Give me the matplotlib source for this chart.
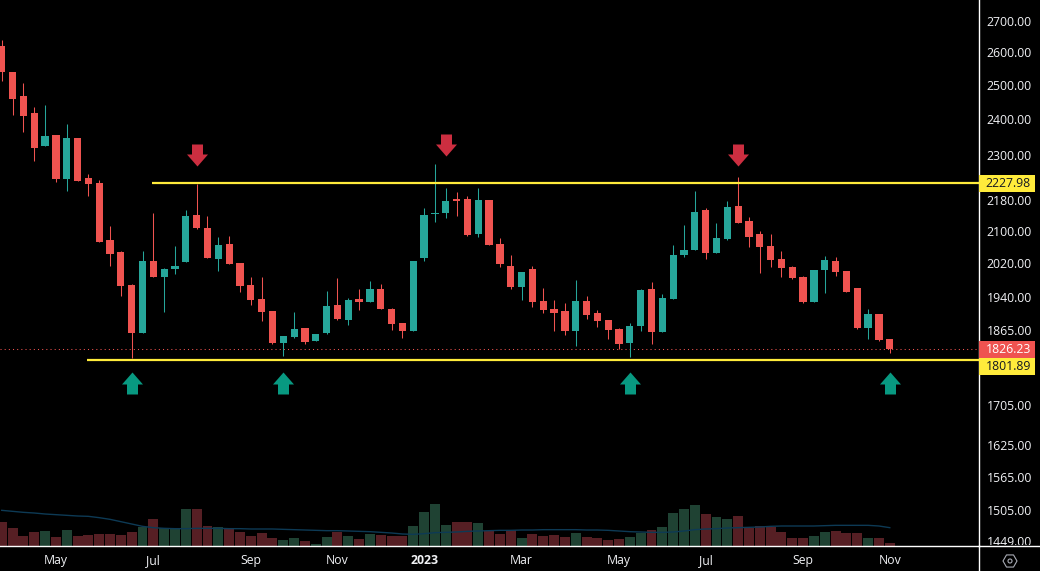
import matplotlib
matplotlib.use("Agg")
import matplotlib.pyplot as plt
from matplotlib.path import Path
from matplotlib.patches import Rectangle, RegularPolygon, Circle
from matplotlib.lines import Line2D
from matplotlib.ticker import NullLocator, NullFormatter
from matplotlib.transforms import Bbox, IdentityTransform

opens = [2624,2542,2471,2422,2329,2359,2237,2351,2241,2228,2081,2051,1972,1863,2030,1992,2011,2028,2144,2111,
         2035,2071,2025,1972,1939,1912,1839,1854,1873,1845,1861,1926,1891,1939,1932,1962,1916,1884,1867,2037,
         2147,2149,2185,2185,2096,2183,2071,2018,1967,2010,1935,1916,1912,1867,1935,1907,1891,1871,1840,1878,
         1962,1865,1939,2044,2056,2157,2049,2083,2167,2128,2096,2066,2035,2015,1991,1932,2008,2030,2005,1965,
         1873,1905,1849]
highs = [2643,2545,2509,2440,2445,2359,2391,2351,2252,2236,2116,2054,1974,2054,2149,2013,2066,2157,2226,2141,
         2089,2091,2025,1990,1991,1912,1856,1909,1873,1860,1958,1989,1942,1962,1982,1974,1919,1884,2030,2162,
         2279,2214,2204,2193,2214,2183,2086,2044,2003,2018,1965,1937,1930,1984,1946,1914,1891,1873,1884,1962,
         1979,1951,2068,2118,2206,2162,2123,2180,2244,2139,2103,2096,2054,2018,1993,2008,2042,2039,2005,1965,
         1916,1905,1849]
lows = [2517,2417,2368,2288,2329,2229,2207,2234,2192,2075,2018,1946,1808,1863,1990,1910,1997,2028,2109,2037,
        2006,2021,1956,1926,1889,1837,1812,1850,1837,1845,1859,1892,1880,1914,1932,1916,1869,1851,1867,2030,
        2126,2136,2141,2091,2088,2068,2015,1962,1937,1921,1907,1867,1858,1834,1893,1876,1849,1827,1809,1867,
        1838,1865,1939,2039,2056,2034,2049,2081,2123,2063,2001,2015,1991,1986,1930,1932,1953,1994,1955,1871,
        1849,1845,1818]
closes = [2542,2464,2414,2323,2356,2237,2351,2234,2224,2077,2047,1970,1863,2030,1992,2010,2018,2141,2112,2037,
          2068,2023,1970,1938,1910,1839,1856,1871,1843,1860,1923,1894,1937,1933,1962,1916,1882,1867,2030,2144,
          2149,2180,2180,2093,2183,2068,2022,1967,2003,1932,1914,1907,1867,1935,1903,1889,1869,1838,1878,1960,
          1865,1942,2044,2056,2152,2049,2086,2165,2123,2089,2063,2032,2013,1989,1932,2008,2032,2003,1955,1873,
          1905,1847,1826]
volumes = [72,54,30,42,45,27,48,30,33,36,36,33,42,57,81,54,54,111,111,60,
           57,54,42,30,39,24,18,24,15,6,27,42,30,21,36,33,30,30,60,102,
           126,63,72,72,69,45,36,48,24,36,30,33,27,39,27,24,18,21,27,39,
           48,57,99,111,123,96,87,81,90,54,60,57,42,24,24,30,42,45,39,39,
           24,24,9]
volume_ma = [107,104,101,99,96,94,92,90,89,85,80,73,66,59,55,53,52,52,53,53,
             53,52,52,51,51,51,50,49,48,47,46,46,45,44,43,41,39,36,35,37,
             40,41,42,44,45,46,47,47,48,48,49,49,49,49,48,48,47,45,43,42,
             41,41,42,45,49,51,52,54,55,56,57,59,60,60,60,60,61,62,62,62,
             62,60,55]
date_ticks = [5, 14, 23, 31, 39, 48, 57, 65, 74, 82]
date_labels = ["May", "Jul", "Sep", "Nov", "2023", "Mar", "May", "Jul", "Sep", "Nov"]
price_ticks = [2700, 2600, 2500, 2400, 2300, 2180, 2100, 2020, 1940, 1865, 1705, 1625, 1565, 1505, 1449]
resistance, support, last_price = 2227.98, 1801.89, 1826.23
resistance_start, support_start = 13.85, 7.85
sell_idx, sell_price = [18, 41, 68], [2303, 2331, 2303]
buy_idx, buy_price = [12, 26, 58, 82], [1753, 1753, 1753, 1753]

UP, DOWN = "#26a69a", "#ef5350"
VUP, VDOWN = "#1f4233", "#561f24"
YELLOW = "#ffeb3b"
TXT = "#f0f1f4"
FONT = "Open Sans"
FS = 8.8
W, H, PX, PY = 1040, 571, 979, 546

fig = plt.figure(figsize=(W / 100, H / 100), dpi=100, facecolor="black")
rect = [0, (H - PY) / H, PX / W, PY / H]
axv = fig.add_axes(rect, facecolor="black", zorder=1)
ax = fig.add_axes(rect, facecolor="none", zorder=2)
n = len(opens)
xs = list(range(n))
xlim = (-0.16, 90.24)

# volume pane
vcolors = [VUP if c >= o else VDOWN for o, c in zip(opens, closes)]
axv.bar(xs, volumes, width=0.92, color=vcolors, linewidth=0)
axv.plot(xs, volume_ma, color="#0d3a55", lw=1.0)
axv.set_xlim(xlim)
axv.set_ylim(0, PY * 3)
axv.set_xticks([])
axv.set_yticks([])
for s in axv.spines.values():
    s.set_visible(False)

# candles
ax.set_yscale("log")
colors = [UP if c >= o else DOWN for o, c in zip(opens, closes)]
ax.vlines(xs, lows, highs, colors=colors, linewidth=0.75, zorder=3)
bottoms = [min(o, c) for o, c in zip(opens, closes)]
tops = [max(o, c) for o, c in zip(opens, closes)]
heights = [t - b if t - b > 0 else 1 for t, b in zip(tops, bottoms)]
ax.bar(xs, heights, bottom=bottoms, width=0.67, color=colors, linewidth=0, zorder=4)

# levels
ax.axhline(last_price, color=DOWN, lw=0.75, ls=(0, (1, 3)), zorder=2)
ax.hlines([resistance, support], [resistance_start, support_start], xlim[1],
          colors=YELLOW, linewidth=1.6, zorder=5)

# arrows
down_verts = [(-5.5, 11), (5.5, 11), (5.5, 1), (10.5, 1), (0, -11), (-10.5, 1), (-5.5, 1), (-5.5, 11)]
up_verts = [(x, -y) for x, y in down_verts]
down_path, up_path = Path(down_verts, closed=True), Path(up_verts, closed=True)
ax.plot(sell_idx, sell_price, ls="", marker=down_path, markersize=15.84, color="#cc2e40", mew=0, zorder=6)
ax.plot(buy_idx, buy_price, ls="", marker=up_path, markersize=15.84, color="#089981", mew=0, zorder=6)

ax.set_xlim(xlim)
ax.set_ylim(1443.6, 2772)

for s in ("top", "left"):
    ax.spines[s].set_visible(False)
for s in ("right", "bottom"):
    ax.spines[s].set_color("white")
    ax.spines[s].set_linewidth(1.0)

ax.yaxis.tick_right()
ax.set_yticks(price_ticks)
ax.set_yticklabels([f"{p:.2f}" for p in price_ticks])
ax.yaxis.set_minor_locator(NullLocator())
ax.yaxis.set_minor_formatter(NullFormatter())
ax.tick_params(axis="y", length=0, pad=5.5, labelcolor=TXT, labelsize=FS)
clip = Bbox([[PX, H - PY + 1], [W, H]])
for lab in ax.get_yticklabels():
    lab.set_fontfamily(FONT)
    lab.set_clip_box(clip)
    lab.set_clip_on(True)
    lab.set_verticalalignment("center")

ax.set_xticks(date_ticks)
ax.set_xticklabels(date_labels)
ax.tick_params(axis="x", length=0, pad=6, labelcolor=TXT, labelsize=FS)
for lab in ax.get_xticklabels():
    lab.set_fontfamily(FONT)
    if lab.get_text() == "2023":
        lab.set_fontweight("bold")

# full-width frame lines, price tags, settings icon (pixel coordinates, y from top)
def fy(y):
    return H - y

id_tr = IdentityTransform()
fig.add_artist(Line2D([PX, W], [fy(PY)] * 2, color="white", lw=1.0, transform=id_tr))
fig.add_artist(Line2D([PX, PX], [0, fy(PY)], color="white", lw=1.0, transform=id_tr))

tags = [(f"{resistance:.2f}", 175, 192, YELLOW, "#131722"),
        (f"{last_price:.2f}", 341, 358, DOWN, "white"),
        (f"{support:.2f}", 358, 375, YELLOW, "#131722")]
for label, y0, y1, bg, fg in tags:
    fig.add_artist(Rectangle((PX, fy(y1)), 1035 - PX, y1 - y0, facecolor=bg, edgecolor="none",
                             transform=id_tr, zorder=8))
    fig.text(1031 / W, fy((y0 + y1) / 2) / H, label, color=fg, ha="right", va="center",
             family=FONT, fontsize=FS, zorder=9)

fig.add_artist(RegularPolygon((1010, fy(561)), 6, radius=7, orientation=3.14159 / 6, facecolor="none",
                              edgecolor="#a9acb5", lw=0.8, transform=id_tr))
fig.add_artist(Circle((1010, fy(561)), 2, facecolor="none", edgecolor="#a9acb5", lw=0.8, transform=id_tr))

fig.savefig("out.png", dpi=100, facecolor="black")
